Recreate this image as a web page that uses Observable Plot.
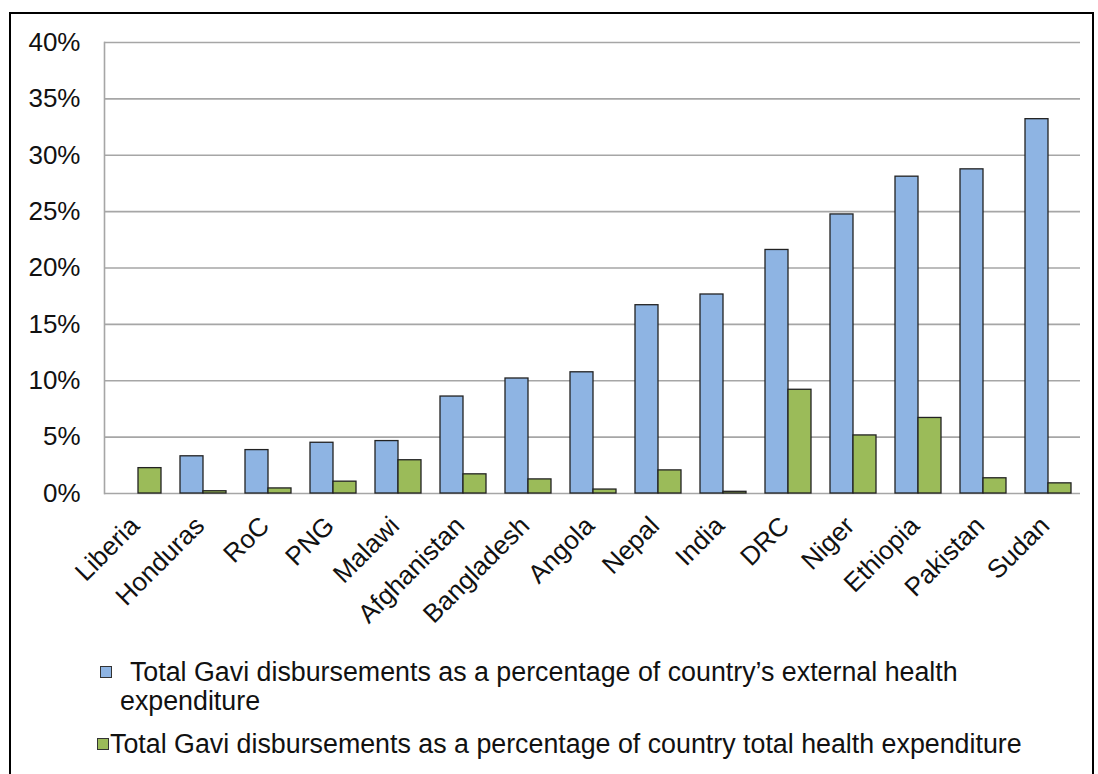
<!DOCTYPE html>
<html>
<head>
<meta charset="utf-8">
<script src="https://cdn.jsdelivr.net/npm/d3@7"></script>
<script src="https://cdn.jsdelivr.net/npm/@observablehq/plot@0.6"></script>
<style>
  html, body { margin: 0; padding: 0; background: #fff; overflow: hidden; }
  body { width: 1098px; height: 774px; position: relative; font-family: "Liberation Sans", Arial, sans-serif; color: #000; }
  #border { position: absolute; left: 9px; top: 12px; width: 1085px; height: 800px; border: 2px solid #000; box-sizing: border-box; }
  .layer { position: absolute; left: 0; top: 0; }
  .legend-text { position: absolute; font-size: 26.8px; line-height: 30px; white-space: pre; color: #111; }
  .swatch { position: absolute; width: 10px; height: 10px; border: 1px solid #333; }
</style>
</head>
<body>
<div id="border"></div>
<div id="grid" class="layer"></div>
<div id="bars" class="layer"></div>
<div id="legend" class="layer"></div>
<script>
// Countries, in the order shown along the axis
const countries = ["Liberia", "Honduras", "RoC", "PNG", "Malawi", "Afghanistan", "Bangladesh",
  "Angola", "Nepal", "India", "DRC", "Niger", "Ethiopia", "Pakistan", "Sudan"];

// Series names (legend text)
const series = [
  "Total Gavi disbursements as a percentage of country’s external health expenditure",
  "Total Gavi disbursements as a percentage of country total health expenditure"
];

// Gavi disbursements as % of external health expenditure (no value for Liberia)
const externalShare = [null, 3.3, 3.85, 4.5, 4.65, 8.6, 10.2, 10.75, 16.7, 17.65, 21.6, 24.75, 28.1, 28.75, 33.2];
// Gavi disbursements as % of total health expenditure
const totalShare = [2.25, 0.2, 0.45, 1.05, 2.95, 1.7, 1.25, 0.35, 2.05, 0.15, 9.2, 5.15, 6.7, 1.35, 0.9];

// Y axis ticks (percent)
const yTicks = [0, 5, 10, 15, 20, 25, 30, 35, 40];

const colors = ["#8EB4E3", "#9BBB59"];

const rows = [];
countries.forEach((c, i) => {
  if (externalShare[i] != null) rows.push({country: c, series: series[0], value: externalShare[i]});
  if (totalShare[i] != null) rows.push({country: c, series: series[1], value: totalShare[i]});
});

const font = "'Liberation Sans', Arial, sans-serif";

// Shared frame geometry for the two stacked layers
const frame = {width: 1098, height: 650, marginLeft: 104, marginRight: 18, marginTop: 42, marginBottom: 157};
const yScale = {domain: [0, 40], label: null};
const style = {fontFamily: font, fontSize: "26px", color: "#000", background: "transparent"};

// Back layer: continuous gridlines, value axis and left axis line
const grid = Plot.plot({
  ...frame,
  style,
  x: {domain: countries, axis: null},
  y: yScale,
  marks: [
    Plot.ruleY(yTicks, {stroke: "#a6a6a6", strokeWidth: 1.6}),
    Plot.frame({anchor: "left", stroke: "#a6a6a6", strokeWidth: 1.6}),
    Plot.axisY({ticks: yTicks, tickSize: 0, tickPadding: 24, tickFormat: d => d + "%", fontSize: 26, label: null, fill: "#111"})
  ]
});
document.getElementById("grid").appendChild(grid);

// Front layer: grouped bars, one facet per country
const bars = Plot.plot({
  ...frame,
  style,
  fx: {domain: countries, paddingInner: 0.278, paddingOuter: 0.139, label: null},
  x: {domain: series, padding: 0, axis: null},
  y: {...yScale, axis: null},
  color: {domain: series, range: colors},
  marks: [
    Plot.barY(rows, {fx: "country", x: "series", y: "value", fill: "series", stroke: "#222", strokeWidth: 1.3}),
    Plot.axisFx({anchor: "bottom", tickRotate: -45, tickSize: 0, tickPadding: 28, dx: -3, fontSize: 26, label: null, fill: "#111"})
  ]
});
document.getElementById("bars").appendChild(bars);

// Legend: swatch and text placement per entry
const legend = document.getElementById("legend");
const legendEntries = [
  {swatch: [100, 666], lines: [[" Total Gavi disbursements as a percentage of country’s external health", 123, 657], ["expenditure", 120, 686]]},
  {swatch: [97, 738], lines: [["Total Gavi disbursements as a percentage of country total health expenditure", 110, 729]]}
];
legendEntries.forEach((e, i) => {
  const sw = document.createElement("div");
  sw.className = "swatch";
  sw.style.left = e.swatch[0] + "px";
  sw.style.top = e.swatch[1] + "px";
  sw.style.background = colors[i];
  sw.title = series[i];
  legend.appendChild(sw);
  e.lines.forEach(([t, x, y]) => {
    const d = document.createElement("div");
    d.className = "legend-text";
    d.style.left = x + "px";
    d.style.top = y + "px";
    d.textContent = t;
    legend.appendChild(d);
  });
});
</script>
</body>
</html>
